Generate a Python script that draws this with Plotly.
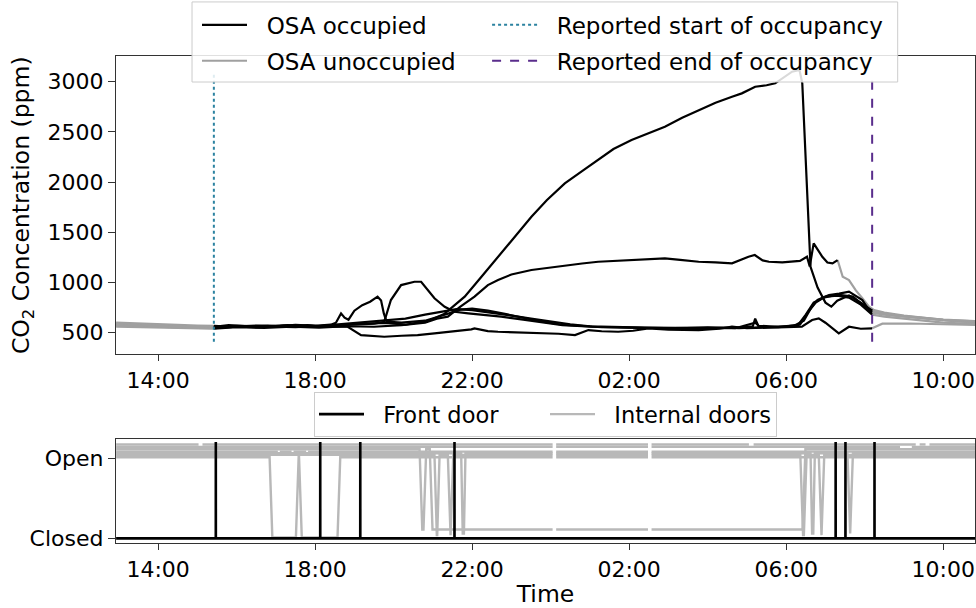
import numpy as np
import pandas as pd
import plotly.graph_objects as go

# ---------------- data (hours since midnight of day 1) ----------------
BASE = pd.Timestamp("2019-01-01")
T0, T1 = 12.93, 34.85

occ_start_report = 15.42
occ_end_report = 32.19

s1_t = [12.93, 13.3, 13.7, 14.1, 14.5, 14.9, 15.42, 15.8, 16.3, 16.8, 17.3, 17.8, 18.3, 18.8, 19.3, 19.8, 20.3, 20.9,
        21.3, 21.55, 21.81, 22.2, 22.66, 23.1, 23.51, 23.9, 24.36, 24.8, 25.21, 25.6, 26.06, 26.5, 26.91, 27.35,
        27.77, 28.2, 28.62, 28.87, 29.21, 29.5, 29.72, 30.0, 30.15, 30.34, 30.41, 30.62, 30.8, 31.0, 31.15, 31.3,
        31.6, 31.9, 32.19, 32.4, 32.8, 33.3, 33.8, 34.3, 34.85]
s1_v = [585, 580, 576, 572, 566, 562, 558, 575, 565, 571, 560, 576, 561, 584, 590, 598, 580, 620,
        690, 770, 859, 1040, 1257, 1460, 1655, 1820, 1988, 2110, 2220, 2330, 2419, 2490, 2552, 2640,
        2718, 2790, 2851, 2884, 2950, 2965, 2984, 3060, 3100, 3117, 2984, 1157, 950, 800, 760, 820,
        870, 800, 720, 690, 670, 650, 632, 615, 605]
s1_occ = (15.42, 32.19)

s2_t = [12.93, 13.5, 14.0, 14.5, 15.0, 15.42, 15.9, 16.5, 17.0, 17.5, 18.0, 18.4, 18.53, 18.66, 18.75, 18.85, 19.0,
        19.2, 19.4, 19.59, 19.68, 19.75, 19.82, 20.2, 20.8, 21.3, 21.7, 22.0, 22.4, 22.8, 23.3, 23.8, 24.3, 24.8,
        25.3, 26.0, 26.8, 27.5, 28.2, 28.8, 29.15, 29.21, 29.3, 29.8, 30.2, 30.45, 30.65, 30.8, 31.09, 31.35,
        31.6, 31.94, 32.11, 32.19, 32.5, 33.0, 33.5, 34.0, 34.85]
s2_v = [600, 590, 585, 578, 572, 568, 560, 572, 565, 578, 570, 580, 600, 693, 650, 630, 720,
        775, 809, 859, 820, 693, 610, 600, 620, 680, 730, 740, 720, 690, 650, 610, 580, 565,
        555, 550, 545, 550, 548, 555, 565, 640, 560, 555, 570, 620, 760, 826, 876, 890,
        909, 826, 726, 700, 680, 662, 642, 625, 600]
s2_occ = (15.42, 32.19)

s3_t = [12.93, 13.4, 14.0, 14.6, 15.0, 15.42, 16.0, 16.6, 17.2, 17.8, 18.4, 19.0, 19.5, 19.76, 19.93, 20.19, 20.4,
        20.53, 20.7, 20.83, 21.04, 21.3, 21.55, 21.9, 22.4, 22.74, 23.3, 23.8, 24.3, 25.05, 25.8, 26.5, 27.3,
        28.0, 28.8, 29.5, 30.0, 30.35, 30.55, 30.75, 31.0, 31.3, 31.6, 31.9, 32.19, 32.5, 33.0, 33.5, 34.0, 34.85]
s3_v = [570, 568, 560, 552, 548, 545, 560, 555, 570, 560, 570, 580, 590, 610, 826, 975, 1000,
        1008, 1008, 942, 843, 759, 709, 693, 676, 660, 630, 600, 575, 560, 552, 548, 545,
        555, 545, 560, 565, 580, 700, 800, 860, 870, 850, 780, 680, 660, 640, 620, 600, 585]
s3_occ = (15.42, 32.19)

s4_t = [12.93, 13.5, 14.0, 14.5, 15.42, 16.0, 16.7, 17.4, 18.1, 18.8, 19.5, 20.2, 20.8, 21.1, 21.38, 21.7, 22.06,
        22.4, 22.66, 23.0, 23.51, 24.0, 24.36, 24.8, 25.21, 25.6, 26.06, 26.5, 26.91, 27.3, 27.77, 28.2, 28.62,
        29.04, 29.2, 29.4, 29.56, 29.9, 30.15, 30.35, 30.53, 30.6, 30.7, 30.8, 30.92, 31.05, 31.18, 31.31, 31.44,
        31.6, 31.77, 31.94, 32.11, 32.24, 32.5, 33.0, 33.5, 34.0, 34.85]
s4_v = [560, 556, 552, 548, 540, 555, 548, 560, 552, 565, 560, 575, 600, 640, 660, 760, 859,
        975, 1025, 1080, 1125, 1150, 1174, 1190, 1207, 1215, 1224, 1230, 1241, 1225, 1207, 1200, 1191,
        1257, 1274, 1220, 1207, 1200, 1207, 1215, 1257, 1160, 1390, 1330, 1257, 1200, 1191, 1224, 1058,
        1025, 925, 843, 759, 726, 700, 672, 648, 628, 612]
s4_occ = (15.42, 31.31)

s5_t = [12.93, 13.5, 14.2, 14.8, 15.42, 16.0, 16.5, 17.0, 17.5, 18.0, 18.5, 18.83, 19.17, 19.76, 20.2, 20.61, 21.04,
        21.47, 21.98, 22.06, 22.4, 22.66, 23.51, 24.2, 24.62, 24.96, 25.3, 25.72, 26.1, 26.49, 27.0, 27.77, 28.3,
        28.62, 29.0, 29.5, 30.0, 30.4, 30.66, 30.83, 31.0, 31.34, 31.6, 31.9, 32.19, 32.45, 33.13, 33.8, 34.85]
s5_v = [590, 578, 570, 560, 552, 565, 555, 560, 555, 565, 560, 560, 477, 460, 470, 477, 494,
        510, 534, 544, 517, 510, 500, 490, 477, 527, 515, 510, 520, 544, 530, 527, 540,
        560, 545, 550, 555, 560, 627, 643, 600, 494, 560, 540, 544, 590, 592, 585, 577]
s5_occ = (15.42, 32.19)

s6_t = [12.93, 13.5, 14.2, 14.8, 15.42, 16.0, 16.7, 17.3, 18.0, 18.6, 19.2, 19.8, 20.3, 20.8, 21.2, 21.6, 22.0,
        22.5, 23.0, 23.5, 24.0, 24.5, 25.0, 25.7, 26.4, 27.2, 28.0, 28.7, 29.21, 29.3, 29.8, 30.3, 30.5, 30.7,
        30.95, 31.3, 31.7, 32.0, 32.19, 32.45, 33.0, 33.5, 34.0, 34.85]
s6_v = [575, 572, 566, 556, 560, 570, 565, 575, 565, 585, 600, 620, 640, 680, 710, 735, 725,
        700, 670, 640, 610, 585, 565, 555, 552, 548, 550, 545, 600, 570, 560, 575, 680, 800,
        850, 880, 860, 760, 720, 690, 665, 645, 630, 615]
s6_occ = (15.42, 32.19)

sensors = [(s1_t, s1_v, s1_occ), (s2_t, s2_v, s2_occ), (s3_t, s3_v, s3_occ),
           (s4_t, s4_v, s4_occ), (s5_t, s5_v, s5_occ), (s6_t, s6_v, s6_occ)]

vline_ppm = [410, 3090]

# doors: front door opening events (hours)
front_door_events = [15.47, 18.13, 19.15, 21.55, 31.26, 31.51, 32.25]
front_open, front_closed = 1.2, 0.0

# internal doors: (offset, [(start of closing, start of reopening), ...])
internal_doors = [
    (0.01, [(16.84, 17.51), (17.59, 18.57)]),
    (0.11, [(20.66, 20.76), (20.92, 30.42)]),
    (0.04, [(21.04, 21.10), (21.38, 21.45), (30.36, 30.45), (30.83, 30.90)]),
    (0.06, [(21.72, 21.76), (30.62, 30.66), (31.56, 31.63)]),
    (0.08, []),
    (0.14, []),
    (0.17, []),
]
common_gaps = [(24.05, 24.14), (26.48, 26.57)]
extra_gaps = {6: [(15.03, 15.13), (29.05, 29.17), (33.3, 33.4), (33.55, 33.65)],
              5: [(32.9, 33.2)], 4: [(17.05, 17.1), (17.4, 17.45), (17.77, 17.82)]}
RAMP = 0.07

x_ticks_h = [14, 18, 22, 26, 30, 34]
x_tick_text = ["14:00", "18:00", "22:00", "02:00", "06:00", "10:00"]
y_ticks = [500, 1000, 1500, 2000, 2500, 3000]
door_tick_vals = [0, 1]
door_tick_text = ["Closed", "Open"]
x_range_h = [12.927, 34.81]


def dt(hours):
    return [BASE + pd.Timedelta(hours=h) for h in hours]


# ---------------- build series ----------------
occ_x, occ_y, un_x, un_y = [], [], [], []
for t, v, (a, b) in sensors:
    t = np.array(t); v = np.array(v, float)
    m = (t >= a) & (t <= b)
    occ_x += list(t[m]) + [t[m][-1]]; occ_y += list(v[m]) + [None]
    pre = t <= a
    post = t >= b
    un_x += list(t[pre]) + [t[pre][-1]]; un_y += list(v[pre]) + [None]
    un_x += list(t[post]) + [t[post][-1]]; un_y += list(v[post]) + [None]


def door_xy(idx, offset, closures):
    t = [T0]; s = [1.0]
    for a, b in closures:
        t += [a, a + RAMP, b, b + RAMP]; s += [1, 0, 0, 1]
    t.append(T1); s.append(1.0)
    t = np.array(t); s = np.array(s, float)
    gaps = common_gaps + extra_gaps.get(idx, [])
    xs, ys = [], []
    pts = list(zip(t, s))
    for g0, g1 in gaps:
        pts = [(tt, ss) for tt, ss in pts if not (g0 < tt < g1)]
        pts += [(g0, np.interp(g0, t, s)), ((g0 + g1) / 2, None), (g1, np.interp(g1, t, s))]
    pts.sort(key=lambda p: p[0])
    for tt, ss in pts:
        xs.append(tt); ys.append(None if ss is None else ss + offset)
    return xs, ys


fig = go.Figure()

BLACK = "#000000"
GRAY = "#a0a0a0"
LIGHT = "#b8b8b8"
START_C = "#2b82a0"
END_C = "#5a2d8c"
NB = "\u00a0\u00a0"

fig.add_trace(go.Scatter(x=dt(un_x), y=un_y, mode="lines", line=dict(color=GRAY, width=2.2),
                         name=NB + "OSA unoccupied", legendrank=2, legend="legend", legendgroup="b"))
fig.add_trace(go.Scatter(x=dt(occ_x), y=occ_y, mode="lines", line=dict(color=BLACK, width=2.2),
                         name=NB + "OSA occupied", legendrank=1, legend="legend", legendgroup="a"))
fig.add_trace(go.Scatter(x=dt([occ_start_report] * 2), y=vline_ppm, mode="lines",
                         line=dict(color=START_C, width=2, dash="dot"),
                         name=NB + "Reported start of occupancy", legendrank=1, legend="legend3",
                         legendgroup="c"))
fig.add_trace(go.Scatter(x=dt([occ_end_report] * 2), y=vline_ppm, mode="lines",
                         line=dict(color=END_C, width=2, dash="dash"),
                         name=NB + "Reported end of occupancy", legendrank=2, legend="legend3",
                         legendgroup="d"))

for i, (off, cl) in enumerate(internal_doors):
    xs, ys = door_xy(i, off, cl)
    fig.add_trace(go.Scatter(x=dt(xs), y=ys, mode="lines", line=dict(color=LIGHT, width=2.4),
                             name=NB + "Internal doors", showlegend=(i == 0), legendgroup="int",
                             legendrank=2, legend="legend2", xaxis="x2", yaxis="y2"))

fx, fy = [T0], [front_closed]
for e in front_door_events:
    fx += [e - 0.001, e, e + 0.001]; fy += [front_closed, front_open, front_closed]
fx.append(T1); fy.append(front_closed)
fig.add_trace(go.Scatter(x=dt(fx), y=fy, mode="lines", line=dict(color=BLACK, width=2.6),
                         name=NB + "Front door", legendrank=1, legend="legend2", xaxis="x2", yaxis="y2"))

FONT = "DejaVu Sans"
axis_common = dict(showgrid=False, zeroline=False, showline=True, mirror=True, linecolor="#333333",
                   linewidth=1.2, ticks="outside", tickcolor="#333333",
                   tickfont=dict(family=FONT, size=22, color="black"))
xr = dt(x_range_h)
leg_common = dict(orientation="v", yanchor="top", xanchor="left", y=1.108,
                  bgcolor="rgba(0,0,0,0)", borderwidth=0, tracegroupgap=3,
                  font=dict(family=FONT, size=23), itemwidth=45)
fig.update_layout(
    width=976, height=608, margin=dict(l=116, r=1, t=56, b=65),
    plot_bgcolor="white", paper_bgcolor="white",
    font=dict(family=FONT, color="black"),
    xaxis=dict(domain=[0, 1], anchor="y", range=xr, tickvals=dt(x_ticks_h), ticktext=x_tick_text,
               ticklen=6, **axis_common),
    yaxis=dict(domain=[0.388, 1], anchor="x", range=[288, 3256], tickvals=y_ticks, ticklen=7,
               **axis_common),
    xaxis2=dict(domain=[0, 1], anchor="y2", range=xr, tickvals=dt(x_ticks_h), ticktext=x_tick_text,
                ticklen=6, title=dict(text="Time", font=dict(family=FONT, size=23.5), standoff=7),
                **axis_common),
    yaxis2=dict(domain=[0, 0.2136], anchor="x2", range=[-0.058, 1.238], tickvals=door_tick_vals,
                ticktext=door_tick_text, ticklen=7, **axis_common),
    legend=dict(x=0.0943, **leg_common),
    legend3=dict(x=0.432, **leg_common),
    legend2=dict(orientation="h", x=0.5, xanchor="center", y=0.31, yanchor="top",
                 bgcolor="rgba(255,255,255,0.85)", bordercolor="#cccccc", borderwidth=1,
                 font=dict(family=FONT, size=22.5), entrywidth=171, itemwidth=45),
    shapes=[dict(type="rect", xref="paper", yref="paper", x0=0.0885, x1=0.910, y0=0.9466, y1=1.111,
                 fillcolor="rgba(255,255,255,0.85)", line=dict(color="#cccccc", width=1), layer="above")],
    annotations=[dict(text="CO<sub>2</sub> Concentration (ppm)", xref="paper", yref="paper",
                      x=-0.1094, y=0.694, xanchor="center", yanchor="middle", textangle=-90,
                      showarrow=False, font=dict(family=FONT, size=23.5, color="black"))],
    showlegend=True,
)

fig.write_html("out.html")
